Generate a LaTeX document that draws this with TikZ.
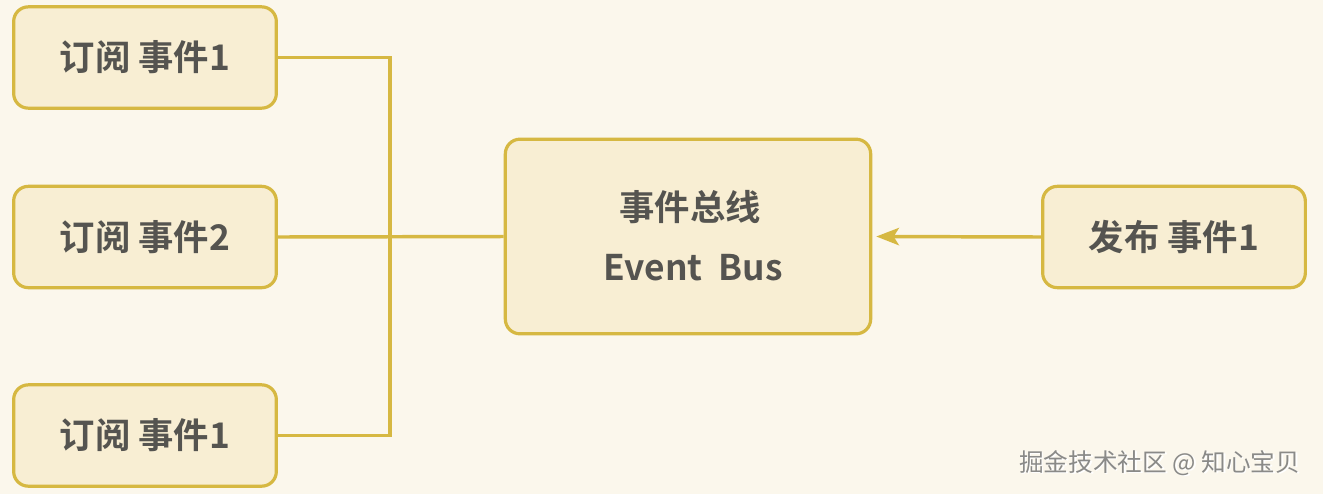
\documentclass[tikz,border=0pt]{standalone}
\usepackage{fontspec}
\setmainfont{Noto Sans CJK SC}
\newfontfamily\cjkb{Noto Sans CJK SC Bold}
\usetikzlibrary{arrows.meta}
\definecolor{bgc}{HTML}{FBF7EC}
\definecolor{boxfill}{HTML}{F8EED3}
\definecolor{boxline}{HTML}{D6B842}
\definecolor{txt}{HTML}{555450}
\definecolor{wm}{HTML}{8A8A88}
\tikzset{
  box/.style={draw=boxline, fill=boxfill, line width=2.4pt, rounded corners=11pt,
    minimum width=197pt, minimum height=76pt, text=txt, inner sep=0pt,
    font=\cjkb\fontsize{26.5}{32}\selectfont, align=center},
  conn/.style={draw=boxline, line width=2.6pt},
}
\begin{document}
\begin{tikzpicture}[x=0.75pt,y=-0.75pt]
\fill[bgc] (0,0) rectangle (1323,494);
\useasboundingbox (0,0) rectangle (1323,494);
\node[box] (s1) at (145,57.5) {订阅 事件1};
\node[box] (s2) at (145,237) {订阅 事件2};
\node[box] (s3) at (145,435.5) {订阅 事件1};
\node[box, minimum width=274pt, minimum height=146pt] (bus) at (688,236.5) {};
\node[text=txt, font=\cjkb\fontsize{26.5}{32}\selectfont] (l1) at (690,207) {事件总线};
\node[text=txt, font=\cjkb\fontsize{26.5}{32}\selectfont] (l2) at (693,268) {Event\ \ Bus};
\node[box] (p) at (1174,237) {发布 事件1};
\coordinate (j1) at (390,57.5);
\coordinate (j3) at (390,435.5);
\draw[conn] (s1.east) -- (j1) -- (j3) -- (s3.east);
\draw[conn] (s2.east) -- (bus.west);
\draw[conn, -{Stealth[length=17pt,width=13pt,inset=4pt]}] (p.west) -- ([xshift=3pt]bus.east);
\node[text=white, font=\fontsize{18.5}{22}\selectfont, anchor=east] (wms) at (1306.5,464.5) {掘金技术社区 @ 知心宝贝};
\node[text=wm, font=\fontsize{18.5}{22}\selectfont, anchor=east] (wmt) at (1305,463) {掘金技术社区 @ 知心宝贝};
\end{tikzpicture}
\end{document}
